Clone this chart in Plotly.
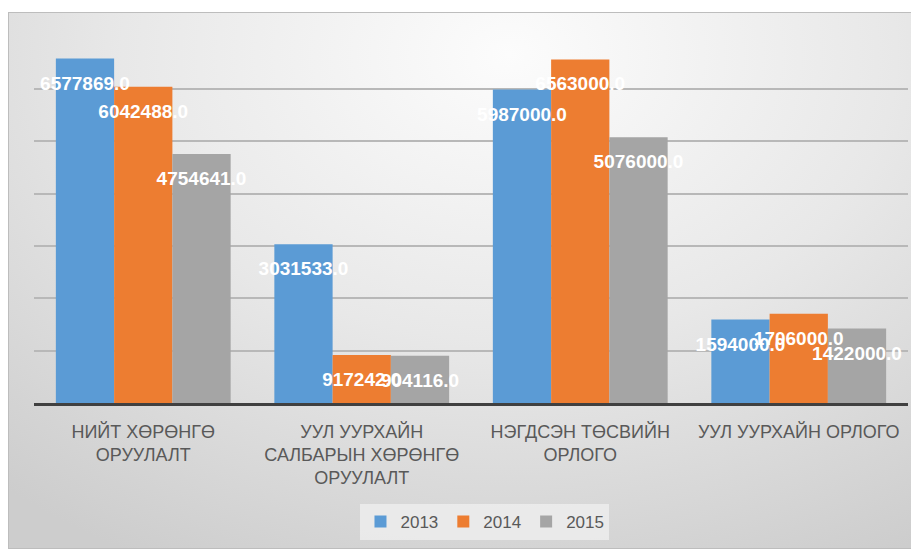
import base64
import plotly.graph_objects as go

categories = ["НИЙТ ХӨРӨНГӨ<br>ОРУУЛАЛТ",
              "УУЛ УУРХАЙН<br>САЛБАРЫН ХӨРӨНГӨ<br>ОРУУЛАЛТ",
              "НЭГДСЭН ТӨСВИЙН<br>ОРЛОГО",
              "УУЛ УУРХАЙН ОРЛОГО"]
years = ["2013", "2014", "2015"]
v2013 = [6577869.0, 3031533.0, 5987000.0, 1594000.0]
v2014 = [6042488.0, 917242.0, 6563000.0, 1706000.0]
v2015 = [4754641.0, 904116.0, 5076000.0, 1422000.0]
series = [v2013, v2014, v2015]
colors = ["#5B9BD5", "#ED7D31", "#A5A5A5"]

W, H = 911, 541  # page body margin of 8px offsets the figure inside the window
BGW, BGH = 911, 537
svg = (f'<svg xmlns="http://www.w3.org/2000/svg" width="{BGW}" height="{BGH}" preserveAspectRatio="none">'
       '<defs><radialGradient id="g" cx="0.55" cy="0.08" r="0.85" gradientTransform="translate(0.55 0.08) scale(1 1.25) translate(-0.55 -0.08)">'
       '<stop offset="0" stop-color="#fcfcfc"/><stop offset="0.5" stop-color="#e8e8e8"/>'
       '<stop offset="1" stop-color="#cdcdcd"/></radialGradient></defs>'
       f'<rect width="{BGW}" height="{BGH}" fill="url(#g)"/>'
       f'<rect x="0.5" y="0.5" width="{BGW-1}" height="{BGH-1}" fill="none" stroke="#bdbdbd" stroke-width="1"/></svg>')
src = "data:image/svg+xml;base64," + base64.b64encode(svg.encode()).decode()

YMAX = 7.01e6
LABEL_DROP = 210000  # pushes value labels a little lower inside the bars

fig = go.Figure()
for name, vals, col in zip(years, series, colors):
    fig.add_trace(go.Bar(
        x=categories, y=vals, name=name, marker=dict(color=col, line=dict(width=0)),
        xaxis="x", yaxis="y",
    ))
for name, vals in zip(years, series):
    fig.add_trace(go.Bar(
        x=categories, y=vals, name=name, showlegend=False, hoverinfo="skip",
        marker=dict(color="rgba(0,0,0,0)", line=dict(width=0)),
        text=[f"{v:.1f}" for v in vals], textposition="inside", insidetextanchor="end",
        constraintext="none", textangle=0, cliponaxis=False,
        textfont=dict(family="Liberation Sans, Arial", size=19, color="white", weight="bold"),
        xaxis="x2", yaxis="y2",
    ))

L, R, T, B = 26, 11, 28, 146
PW, PH = W - L - R, H - T - B
BOTTOM = H - B
fig.update_layout(
    width=W, height=H,
    margin=dict(l=L, r=R, t=T, b=B, autoexpand=False),
    barmode="group", bargap=0.2, bargroupgap=0.0,
    paper_bgcolor="white", plot_bgcolor="rgba(0,0,0,0)",
    showlegend=True,
    legend=dict(orientation="h", x=0.516, xanchor="center", y=-119 / PH, yanchor="middle",
                bgcolor="rgba(242,242,242,0.7)",
                font=dict(family="Liberation Sans Narrow, Liberation Sans, Arial", size=17, color="#595959"),
                itemwidth=30, traceorder="normal"),
    images=[dict(source=src, xref="paper", yref="paper",
                 x=(0 - L) / PW, y=(BOTTOM - 4) / PH, sizex=BGW / PW, sizey=BGH / PH,
                 xanchor="left", yanchor="top", sizing="stretch", layer="below")],
    xaxis=dict(showline=True, linecolor="#404040", linewidth=3, ticks="", automargin=False,
               ticklabelstandoff=10,
               tickfont=dict(family="Liberation Sans Narrow, Liberation Sans, Arial", size=18, color="#595959")),
    yaxis=dict(range=[0, YMAX], dtick=1000000, showticklabels=False, showgrid=True, automargin=False,
               gridcolor="#b8b8b8", gridwidth=1.5, zeroline=False, ticks=""),
    xaxis2=dict(overlaying="x", matches="x", showticklabels=False, showgrid=False, showline=False,
                ticks="", automargin=False),
    yaxis2=dict(overlaying="y", range=[LABEL_DROP, YMAX + LABEL_DROP], showticklabels=False,
                showgrid=False, zeroline=False, ticks="", automargin=False),
)
fig.write_html("out.html")
